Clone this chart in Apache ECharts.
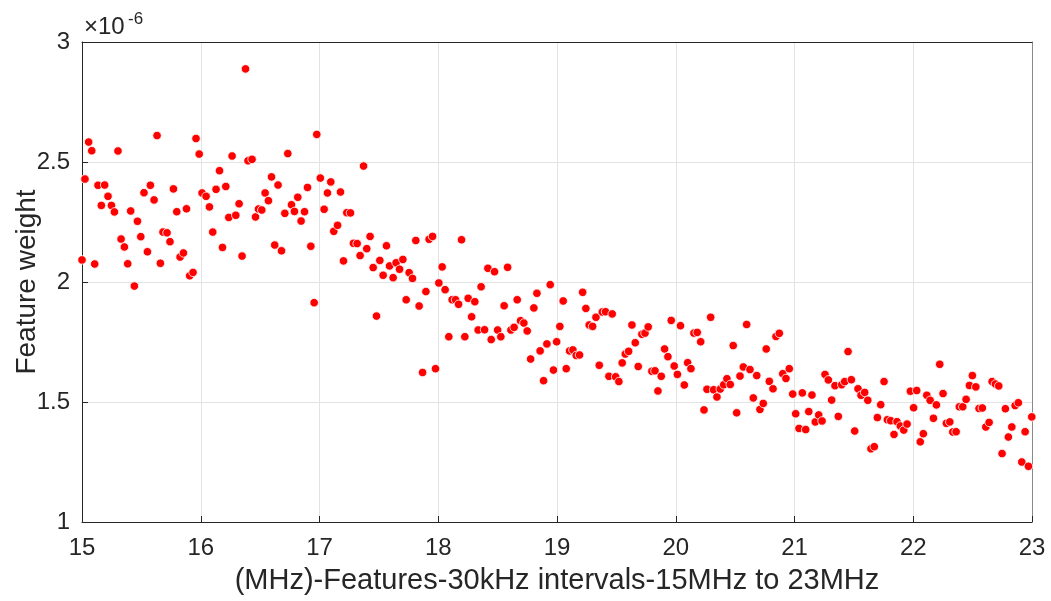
<!DOCTYPE html>
<html>
<head>
<meta charset="utf-8">
<script src="https://cdn.jsdelivr.net/npm/echarts@6/dist/echarts.min.js"></script>
<style>
  html, body { margin: 0; padding: 0; background: #ffffff; }
  #chart { width: 1051px; height: 601px; }
</style>
</head>
<body>
<div id="chart"></div>
<script>
// Frequency of each feature (MHz)
const freqMHz = [
  15.000, 15.025, 15.056, 15.082, 15.107, 15.135, 15.163, 15.191, 15.219, 15.248,
  15.273, 15.303, 15.329, 15.357, 15.385, 15.410, 15.441, 15.467, 15.495, 15.522,
  15.551, 15.576, 15.607, 15.632, 15.660, 15.682, 15.716, 15.741, 15.770, 15.798,
  15.826, 15.854, 15.880, 15.907, 15.935, 15.960, 15.987, 16.011, 16.045, 16.073,
  16.101, 16.129, 16.158, 16.183, 16.211, 16.236, 16.264, 16.295, 16.323, 16.348,
  16.377, 16.398, 16.432, 16.461, 16.486, 16.514, 16.542, 16.570, 16.596, 16.623,
  16.651, 16.680, 16.708, 16.733, 16.764, 16.789, 16.817, 16.845, 16.874, 16.899,
  16.927, 16.955, 16.977, 17.007, 17.039, 17.067, 17.095, 17.120, 17.152, 17.177,
  17.202, 17.230, 17.261, 17.286, 17.317, 17.342, 17.371, 17.398, 17.426, 17.452,
  17.480, 17.508, 17.536, 17.564, 17.590, 17.620, 17.645, 17.674, 17.702, 17.730,
  17.755, 17.783, 17.811, 17.839, 17.868, 17.896, 17.923, 17.952, 17.977, 18.005,
  18.033, 18.058, 18.089, 18.117, 18.146, 18.171, 18.196, 18.224, 18.252, 18.281,
  18.308, 18.336, 18.361, 18.390, 18.418, 18.446, 18.474, 18.500, 18.527, 18.555,
  18.584, 18.612, 18.639, 18.665, 18.693, 18.721, 18.749, 18.778, 18.805, 18.831,
  18.858, 18.887, 18.915, 18.943, 18.970, 18.997, 19.024, 19.052, 19.078, 19.106,
  19.134, 19.162, 19.190, 19.216, 19.243, 19.271, 19.300, 19.328, 19.356, 19.381,
  19.409, 19.437, 19.465, 19.494, 19.521, 19.549, 19.575, 19.603, 19.631, 19.659,
  19.684, 19.715, 19.741, 19.768, 19.799, 19.825, 19.850, 19.878, 19.906, 19.934,
  19.962, 19.987, 20.014, 20.040, 20.072, 20.100, 20.128, 20.153, 20.181, 20.210,
  20.238, 20.263, 20.294, 20.319, 20.347, 20.375, 20.404, 20.431, 20.459, 20.484,
  20.513, 20.541, 20.569, 20.597, 20.625, 20.653, 20.682, 20.709, 20.737, 20.762,
  20.788, 20.819, 20.844, 20.872, 20.901, 20.928, 20.956, 20.985, 21.010, 21.038,
  21.066, 21.094, 21.120, 21.147, 21.175, 21.204, 21.232, 21.257, 21.285, 21.313,
  21.341, 21.369, 21.398, 21.423, 21.451, 21.479, 21.507, 21.535, 21.560, 21.591,
  21.617, 21.644, 21.672, 21.698, 21.726, 21.754, 21.782, 21.810, 21.838, 21.863,
  21.891, 21.920, 21.948, 21.976, 22.003, 22.029, 22.059, 22.085, 22.114, 22.142,
  22.170, 22.195, 22.223, 22.251, 22.279, 22.308, 22.333, 22.361, 22.388, 22.417,
  22.445, 22.473, 22.498, 22.527, 22.554, 22.582, 22.611, 22.639, 22.664, 22.692,
  22.720, 22.748, 22.776, 22.801, 22.830, 22.858, 22.885, 22.914, 22.942, 22.970,
  22.998
];

// Feature weight of each frequency (units of 1e-6)
const weightE6 = [
  2.092, 2.429, 2.583, 2.547, 2.075, 2.403, 2.319, 2.404, 2.357, 2.319,
  2.292, 2.546, 2.179, 2.146, 2.076, 2.296, 1.983, 2.253, 2.189, 2.372,
  2.126, 2.403, 2.342, 2.610, 2.078, 2.208, 2.205, 2.168, 2.388, 2.293,
  2.104, 2.121, 2.305, 2.026, 2.040, 2.598, 2.533, 2.371, 2.357, 2.313,
  2.208, 2.386, 2.464, 2.144, 2.398, 2.269, 2.525, 2.278, 2.326, 2.108,
  2.888, 2.505, 2.511, 2.271, 2.304, 2.300, 2.371, 2.339, 2.438, 2.154,
  2.404, 2.130, 2.286, 2.535, 2.322, 2.294, 2.353, 2.254, 2.293, 2.394,
  2.149, 1.914, 2.615, 2.433, 2.303, 2.371, 2.417, 2.211, 2.236, 2.375,
  2.088, 2.289, 2.288, 2.161, 2.160, 2.110, 2.483, 2.139, 2.190, 2.060,
  1.858, 2.090, 2.028, 2.151, 2.067, 2.018, 2.080, 2.053, 2.094, 1.926,
  2.039, 2.015, 2.173, 1.900, 1.623, 1.960, 2.178, 2.190, 1.639, 1.996,
  2.063, 1.968, 1.772, 1.926, 1.926, 1.907, 2.176, 1.772, 1.932, 1.855,
  1.918, 1.800, 1.980, 1.801, 2.057, 1.760, 2.043, 1.800, 1.772, 1.901,
  2.061, 1.800, 1.811, 1.926, 1.839, 1.829, 1.796, 1.679, 1.892, 1.953,
  1.713, 1.589, 1.742, 1.989, 1.633, 1.751, 1.815, 1.921, 1.639, 1.713,
  1.717, 1.694, 1.696, 1.957, 1.890, 1.821, 1.815, 1.853, 1.653, 1.875,
  1.876, 1.607, 1.867, 1.605, 1.585, 1.663, 1.700, 1.711, 1.821, 1.747,
  1.648, 1.782, 1.787, 1.813, 1.628, 1.630, 1.546, 1.607, 1.721, 1.689,
  1.840, 1.650, 1.615, 1.818, 1.571, 1.664, 1.639, 1.787, 1.790, 1.751,
  1.467, 1.553, 1.853, 1.551, 1.521, 1.554, 1.572, 1.597, 1.573, 1.735,
  1.455, 1.608, 1.646, 1.823, 1.635, 1.517, 1.610, 1.469, 1.494, 1.721,
  1.586, 1.555, 1.773, 1.786, 1.618, 1.598, 1.639, 1.533, 1.451, 1.390,
  1.538, 1.385, 1.460, 1.529, 1.417, 1.446, 1.421, 1.615, 1.592, 1.508,
  1.568, 1.440, 1.572, 1.585, 1.710, 1.593, 1.379, 1.555, 1.528, 1.540,
  1.507, 1.305, 1.314, 1.435, 1.489, 1.585, 1.426, 1.422, 1.365, 1.418,
  1.400, 1.383, 1.408, 1.545, 1.476, 1.548, 1.334, 1.368, 1.528, 1.507,
  1.432, 1.488, 1.657, 1.535, 1.411, 1.417, 1.375, 1.376, 1.480, 1.480,
  1.511, 1.569, 1.610, 1.563, 1.473, 1.475, 1.396, 1.415, 1.585, 1.575,
  1.567, 1.285, 1.472, 1.354, 1.396, 1.485, 1.497, 1.250, 1.376, 1.232,
  1.438
];

const xTicks = [15, 16, 17, 18, 19, 20, 21, 22, 23];
const yTicks = [1, 1.5, 2, 2.5, 3];

const xTitle = '(MHz)-Features-30kHz intervals-15MHz to 23MHz';
const yTitle = 'Feature weight';
const exponentBase = '×10';
const exponentPower = '-6';

const points = freqMHz.map((f, i) => [f, weightE6[i]]);

const FONT = '"Liberation Sans", Arial, Helvetica, sans-serif';
const AXIS_COLOR = '#262626';
const GRID_COLOR = '#e3e3e3';
const TICK_FONT = 24;

const chart = echarts.init(document.getElementById('chart'), null, { renderer: 'canvas' });

const fmtY = v => (Math.round(v * 10) / 10).toString();

chart.setOption({
  backgroundColor: '#ffffff',
  animation: false,
  grid: { left: 82, right: 19, top: 42, bottom: 79, containLabel: false, outerBoundsMode: 'none' },
  xAxis: [
    {
      type: 'value',
      min: xTicks[0],
      max: xTicks[xTicks.length - 1],
      interval: 1,
      position: 'bottom',
      name: xTitle,
      nameLocation: 'middle',
      nameGap: 44,
      nameMoveOverlap: false,
      nameTextStyle: { fontFamily: FONT, fontSize: 29, color: AXIS_COLOR },
      axisLine: { show: true, lineStyle: { color: AXIS_COLOR, width: 1 } },
      axisTick: { show: true, inside: true, length: 6, lineStyle: { color: AXIS_COLOR } },
      axisLabel: { fontFamily: FONT, fontSize: TICK_FONT, color: AXIS_COLOR, margin: 14 },
      splitLine: { show: true, lineStyle: { color: GRID_COLOR, width: 1 } }
    },
    {
      type: 'value',
      min: xTicks[0],
      max: xTicks[xTicks.length - 1],
      interval: 1,
      position: 'top',
      axisLine: { show: true, lineStyle: { color: AXIS_COLOR, width: 1 } },
      axisTick: { show: false },
      axisLabel: { show: false },
      splitLine: { show: false }
    }
  ],
  yAxis: [
    {
      type: 'value',
      min: yTicks[0],
      max: yTicks[yTicks.length - 1],
      interval: 0.5,
      position: 'left',
      name: yTitle,
      nameLocation: 'middle',
      nameGap: 41,
      nameMoveOverlap: false,
      nameTextStyle: { fontFamily: FONT, fontSize: 28, color: AXIS_COLOR },
      axisLine: { show: true, lineStyle: { color: AXIS_COLOR, width: 1 } },
      axisTick: { show: true, inside: true, length: 6, lineStyle: { color: AXIS_COLOR } },
      axisLabel: { fontFamily: FONT, fontSize: TICK_FONT, color: AXIS_COLOR, margin: 12, formatter: fmtY },
      splitLine: { show: true, lineStyle: { color: GRID_COLOR, width: 1 } }
    },
    {
      type: 'value',
      min: yTicks[0],
      max: yTicks[yTicks.length - 1],
      interval: 0.5,
      position: 'right',
      axisLine: { show: true, lineStyle: { color: '#8a8a8a', width: 1 } },
      axisTick: { show: false },
      axisLabel: { show: false },
      splitLine: { show: false }
    }
  ],
  graphic: [
    {
      type: 'text',
      x: 84,
      y: 27,
      style: {
        text: exponentBase,
        font: '24px ' + FONT,
        fill: AXIS_COLOR,
        align: 'left',
        verticalAlign: 'middle'
      }
    },
    {
      type: 'text',
      x: 128,
      y: 19,
      style: {
        text: exponentPower,
        font: '17px ' + FONT,
        fill: AXIS_COLOR,
        align: 'left',
        verticalAlign: 'middle'
      }
    }
  ],
  series: [
    {
      type: 'scatter',
      xAxisIndex: 0,
      yAxisIndex: 0,
      data: points,
      symbol: 'circle',
      symbolSize: 8.5,
      itemStyle: { color: '#ff0000', borderColor: '#ffffff', borderWidth: 0.8, opacity: 1 },
      emphasis: { disabled: true }
    }
  ]
});
</script>
</body>
</html>
